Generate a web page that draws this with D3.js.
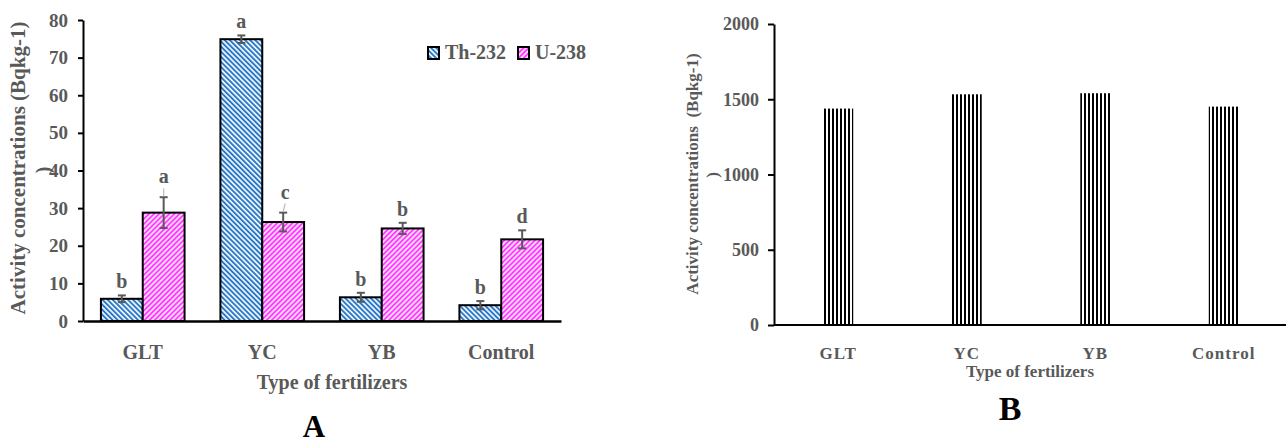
<!DOCTYPE html>
<html><head><meta charset="utf-8">
<script src="https://cdn.jsdelivr.net/npm/d3@7"></script>
<style>
html,body{margin:0;padding:0;background:#fff;}
svg{display:block;}
text{font-family:"Liberation Serif","Times New Roman",serif;}
</style></head>
<body><svg id="chart" width="1286" height="446"></svg>
<script>
// ---- Panel A data ----
const categories = ["GLT", "YC", "YB", "Control"];
const seriesNames = ["Th-232", "U-238"];
const th232 = [5.9, 74.9, 6.3, 4.2];
const u238 = [28.8, 26.3, 24.6, 21.7];
const th232Err = [0.9, 1.0, 1.2, 1.1];
const u238Err = [4.1, 2.5, 1.5, 2.4];
const th232Letters = ["b", "a", "b", "b"];
const u238Letters = ["a", "c", "b", "d"];
const yTicksA = [0, 10, 20, 30, 40, 50, 60, 70, 80];
// ---- Panel B data ----
const categoriesB = ["GLT", "YC", "YB", "Control"];
const valuesB = [1438, 1533, 1540, 1451];
const yTicksB = [0, 500, 1000, 1500, 2000];

const svg = d3.select("#chart");
const gray = "#595959";
const defs = svg.append("defs");

function hatch(id, angle, color, bg, period, lw) {
  const p = defs.append("pattern").attr("id", id).attr("patternUnits", "userSpaceOnUse")
    .attr("width", period).attr("height", period).attr("patternTransform", `rotate(${angle})`);
  p.append("rect").attr("width", period).attr("height", period).attr("fill", bg);
  p.append("rect").attr("width", lw).attr("height", period).attr("fill", color);
}
hatch("thPat", -45, "#2a78c6", "#f2f8ff", 3.6, 1.9);
hatch("uPat", 45, "#ff3cff", "#ffe2ff", 3.6, 1.9);
hatch("bPat", 0, "#000", "#fff", 4, 2);
const fills = ["url(#thPat)", "url(#uPat)"];

// ================= Panel A =================
const yA = d3.scaleLinear().domain([0, 80]).range([321, 20]);
const xA = d3.scaleBand().domain(categories).range([83, 561]).paddingInner(0.3).paddingOuter(0.15);
const xSub = d3.scaleBand().domain(seriesNames).range([0, xA.bandwidth()]);
const valsA = [th232, u238], errsA = [th232Err, u238Err], letA = [th232Letters, u238Letters];

const gA = svg.append("g");
seriesNames.forEach((s, si) => {
  categories.forEach((c, ci) => {
    const x0 = xA(c) + xSub(s);
    const v = valsA[si][ci], e = errsA[si][ci];
    gA.append("rect").attr("x", x0).attr("y", yA(v)).attr("width", xSub.bandwidth())
      .attr("height", yA(0) - yA(v)).attr("fill", fills[si]).attr("stroke", "#000").attr("stroke-width", 2);
    const cx = x0 + xSub.bandwidth() / 2;
    gA.append("line").attr("x1", cx).attr("x2", cx).attr("y1", yA(v + e)).attr("y2", yA(v - e))
      .attr("stroke", gray).attr("stroke-width", 2);
    [v + e, v - e].forEach(t => gA.append("line").attr("x1", cx - 4).attr("x2", cx + 4)
      .attr("y1", yA(t)).attr("y2", yA(t)).attr("stroke", gray).attr("stroke-width", 2));
    const leader = (si === 1 && (ci === 0 || ci === 1));
    const gap = leader ? 14 : 7;
    if (leader) {
      gA.append("line").attr("x1", cx + (ci === 1 ? 2 : 0)).attr("x2", cx)
        .attr("y1", yA(v + e) - gap + 5).attr("y2", yA(v + e) - 1)
        .attr("stroke", "#bbb").attr("stroke-width", 1.2);
    }
    gA.append("text").attr("x", cx + (ci === 1 && si === 1 ? 2 : 0)).attr("y", yA(v + e) - gap)
      .attr("text-anchor", "middle").attr("font-size", 20).attr("font-weight", "bold")
      .attr("fill", gray).text(letA[si][ci]);
  });
});

// y axis A
const axA = svg.append("g").attr("transform", "translate(83,0)")
  .call(d3.axisLeft(yA).tickValues(yTicksA).tickFormat(d3.format("d")).tickSize(5).tickPadding(10).tickSizeOuter(0));
axA.select(".domain").attr("stroke", "#000").attr("stroke-width", 2);
axA.selectAll(".tick line").attr("stroke", "#000").attr("stroke-width", 2);
axA.selectAll(".tick text").attr("font-size", 19).attr("font-weight", "bold").attr("fill", gray)
  .attr("font-family", "Liberation Serif");
// x axis A
const axXA = svg.append("g").attr("transform", `translate(0,${yA(0)})`)
  .call(d3.axisBottom(xA).tickSize(0).tickPadding(24).tickSizeOuter(0));
axXA.select(".domain").attr("stroke", "#000").attr("stroke-width", 2.5);
axXA.selectAll(".tick text").attr("font-size", 20).attr("font-weight", "bold").attr("fill", gray)
  .attr("font-family", "Liberation Serif");

svg.append("text").attr("transform", "translate(25,168) rotate(-90)").attr("text-anchor", "middle")
  .attr("font-size", 21).attr("font-weight", "bold").attr("fill", gray)
  .text("Activity concentrations (Bqkg-1)");
svg.append("text").attr("transform", "translate(50,170) rotate(-90)").attr("text-anchor", "middle")
  .attr("font-size", 20).attr("font-weight", "bold").attr("fill", gray).text(")");
svg.append("text").attr("x", 314).attr("y", 389).attr("text-anchor", "middle")
  .attr("x", 332).attr("font-size", 20).attr("font-weight", "bold").attr("fill", gray).text("Type of fertilizers");
svg.append("text").attr("x", 314).attr("y", 437).attr("text-anchor", "middle")
  .attr("font-size", 31).attr("font-weight", "bold").attr("fill", "#000").text("A");

// legend A
const legX = d3.scaleOrdinal().domain(seriesNames).range([428, 518]);
seriesNames.forEach((s, i) => {
  svg.append("rect").attr("x", legX(s)).attr("y", 47).attr("width", 11).attr("height", 12)
    .attr("fill", fills[i]).attr("stroke", "#000").attr("stroke-width", 2);
  svg.append("text").attr("x", legX(s) + 17).attr("y", 59).attr("font-size", 20)
    .attr("font-weight", "bold").attr("fill", gray).text(s);
});

// ================= Panel B =================
const yB = d3.scaleLinear().domain([0, 2000]).range([325, 24]);
const xB = d3.scaleBand().domain(categoriesB).range([774, 1288]).paddingInner(0.767).paddingOuter(0.3835);
svg.append("g").selectAll("rect").data(valuesB).join("rect")
  .attr("x", (d, i) => xB(categoriesB[i])).attr("y", d => yB(d))
  .attr("width", xB.bandwidth()).attr("height", d => yB(0) - yB(d)).attr("fill", "url(#bPat)");

const axB = svg.append("g").attr("transform", "translate(774,0)")
  .call(d3.axisLeft(yB).tickValues(yTicksB).tickFormat(d3.format("d")).tickSize(6).tickPadding(9).tickSizeOuter(0));
axB.select(".domain").attr("stroke", "#000").attr("stroke-width", 2);
axB.selectAll(".tick line").attr("stroke", "#000").attr("stroke-width", 2);
axB.selectAll(".tick text").attr("font-size", 18).attr("font-weight", "bold").attr("fill", gray)
  .attr("font-family", "Liberation Serif");
const axXB = svg.append("g").attr("transform", `translate(0,${yB(0)})`)
  .call(d3.axisBottom(xB).tickSize(0).tickPadding(22).tickSizeOuter(0));
axXB.select(".domain").attr("stroke", "#000").attr("stroke-width", 2).attr("d", "M774,0H1286");
axXB.selectAll(".tick text").attr("font-size", 17).attr("font-weight", "bold").attr("fill", gray)
  .attr("letter-spacing", 1).attr("font-family", "Liberation Serif");

svg.append("text").attr("transform", "translate(698,174) rotate(-90)").attr("text-anchor", "middle")
  .attr("font-size", 17).attr("font-weight", "bold").attr("fill", gray).style("white-space", "pre")
  .text("Activity concentrations  (Bqkg-1)");
svg.append("text").attr("transform", "translate(718,175) rotate(-90)").attr("text-anchor", "middle")
  .attr("font-size", 17).attr("font-weight", "bold").attr("fill", gray).text(")");
svg.append("text").attr("x", 1030).attr("y", 377).attr("text-anchor", "middle")
  .attr("font-size", 17).attr("font-weight", "bold").attr("fill", gray).text("Type of fertilizers");
svg.append("text").attr("x", 1010).attr("y", 420).attr("text-anchor", "middle")
  .attr("font-size", 34).attr("font-weight", "bold").attr("fill", "#000").text("B");
</script></body></html>
